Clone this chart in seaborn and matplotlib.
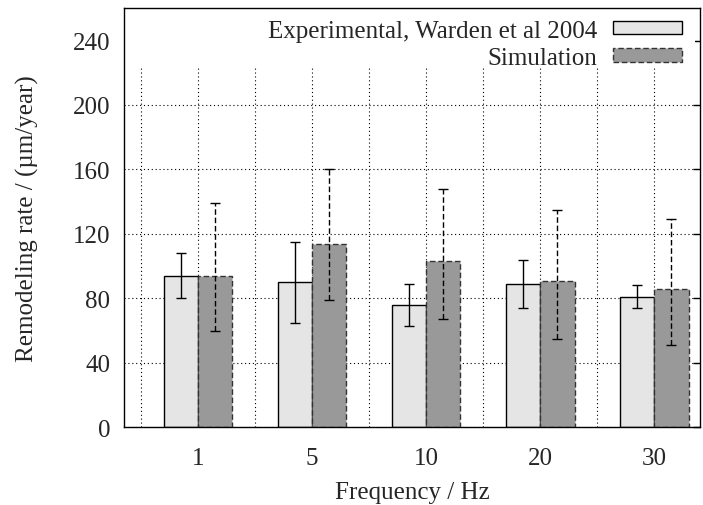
import numpy as np
import pandas as pd
import matplotlib
matplotlib.use("Agg")
from matplotlib import pyplot as plt
from matplotlib.patches import Patch, Rectangle
import seaborn as sns

# values
freqs = ["1", "5", "10", "20", "30"]
exp_mean = [94, 90, 76, 89, 81]
exp_err = [14, 25, 13, 15, 7]
sim_mean = [94, 114, 103, 91, 86]
sim_low = [60, 79, 67, 55, 51]
sim_high = [139, 160, 148, 135, 129]

labels = ["Experimental, Warden et al 2004", "Simulation"]
colors = ["#e5e5e5", "#999999"]

df = pd.DataFrame({
    "freq": freqs * 2,
    "rate": exp_mean + sim_mean,
    "source": [labels[0]] * len(freqs) + [labels[1]] * len(freqs),
})

sns.set_style("white")
plt.rcParams["font.family"] = ["Liberation Serif", "DejaVu Serif"]
fs = 18

fig = plt.figure(figsize=(7.03, 5.06), dpi=100)
ax = fig.add_axes([124 / 703, 1 - 428.3 / 506, 576 / 703, 419 / 506])

sns.barplot(data=df, x="freq", y="rate", hue="source", order=freqs,
            hue_order=labels, palette=colors, width=0.6, errorbar=None,
            edgecolor="black", linewidth=1.0, legend=False, ax=ax, zorder=2)

exp_bars, sim_bars = ax.containers[0], ax.containers[1]
for p in sim_bars:
    p.set_linestyle((0, (4, 2)))
    p.set_edgecolor("#333333")

# error bars at bar centres
ex = [p.get_x() + p.get_width() / 2 for p in exp_bars]
sx = [p.get_x() + p.get_width() / 2 for p in sim_bars]
ax.errorbar(ex, exp_mean, yerr=exp_err, fmt="none", ecolor="black",
            elinewidth=1.0, capsize=3.5, capthick=1.0, zorder=3)
sim_yerr = [np.subtract(sim_mean, sim_low), np.subtract(sim_high, sim_mean)]
eb = ax.errorbar(sx, sim_mean, yerr=sim_yerr, fmt="none", ecolor="black",
                 elinewidth=1.0, capsize=3.5, capthick=1.0, zorder=3)
eb[2][0].set_linestyle((0, (4, 2)))

ax.set_xlim(-0.65, 4.4)
ax.set_ylim(0, 260)
ax.set_yticks(np.arange(0, 241, 40))
ax.set_xticks(range(len(freqs)), freqs)
ax.set_xticks(np.arange(-0.5, 4.5, 1), minor=True)

ax.set_axisbelow(True)
ax.grid(True, which="both", axis="x", linestyle=(0, (1, 2.5)), color="black", linewidth=0.8)
ax.grid(True, which="major", axis="y", linestyle=(0, (1, 2.5)), color="black", linewidth=0.8)

ax.tick_params(which="both", direction="in", length=5, width=1, top=True, right=True,
               color="black", labelsize=fs)
ax.tick_params(axis="y", pad=10)
ax.tick_params(axis="x", pad=14)
for s in ax.spines.values():
    s.set_color("black")
    s.set_linewidth(1.0)

ax.set_xlabel("Frequency / Hz", fontsize=fs, labelpad=9)
ax.set_ylabel("Remodeling rate / (\u00b5m/year)", fontsize=fs, labelpad=24)

# opaque key area as in the original
ax.add_patch(Rectangle((0.002, 0.862), 0.99, 0.137, transform=ax.transAxes,
                       facecolor="white", edgecolor="none", zorder=1.5))

handles = [Patch(facecolor=colors[0], edgecolor="black", linewidth=1.0),
           Patch(facecolor=colors[1], edgecolor="#333333", linewidth=1.0,
                 linestyle=(0, (4, 2)))]
ax.legend(handles, labels, loc="upper right", bbox_to_anchor=(0.988, 1.0),
          markerfirst=False, frameon=False, handlelength=2.75, handleheight=0.45,
          handletextpad=0.65, labelspacing=0.22, borderpad=0.45, borderaxespad=0,
          fontsize=fs)

fig.savefig("out.png", dpi=100)
